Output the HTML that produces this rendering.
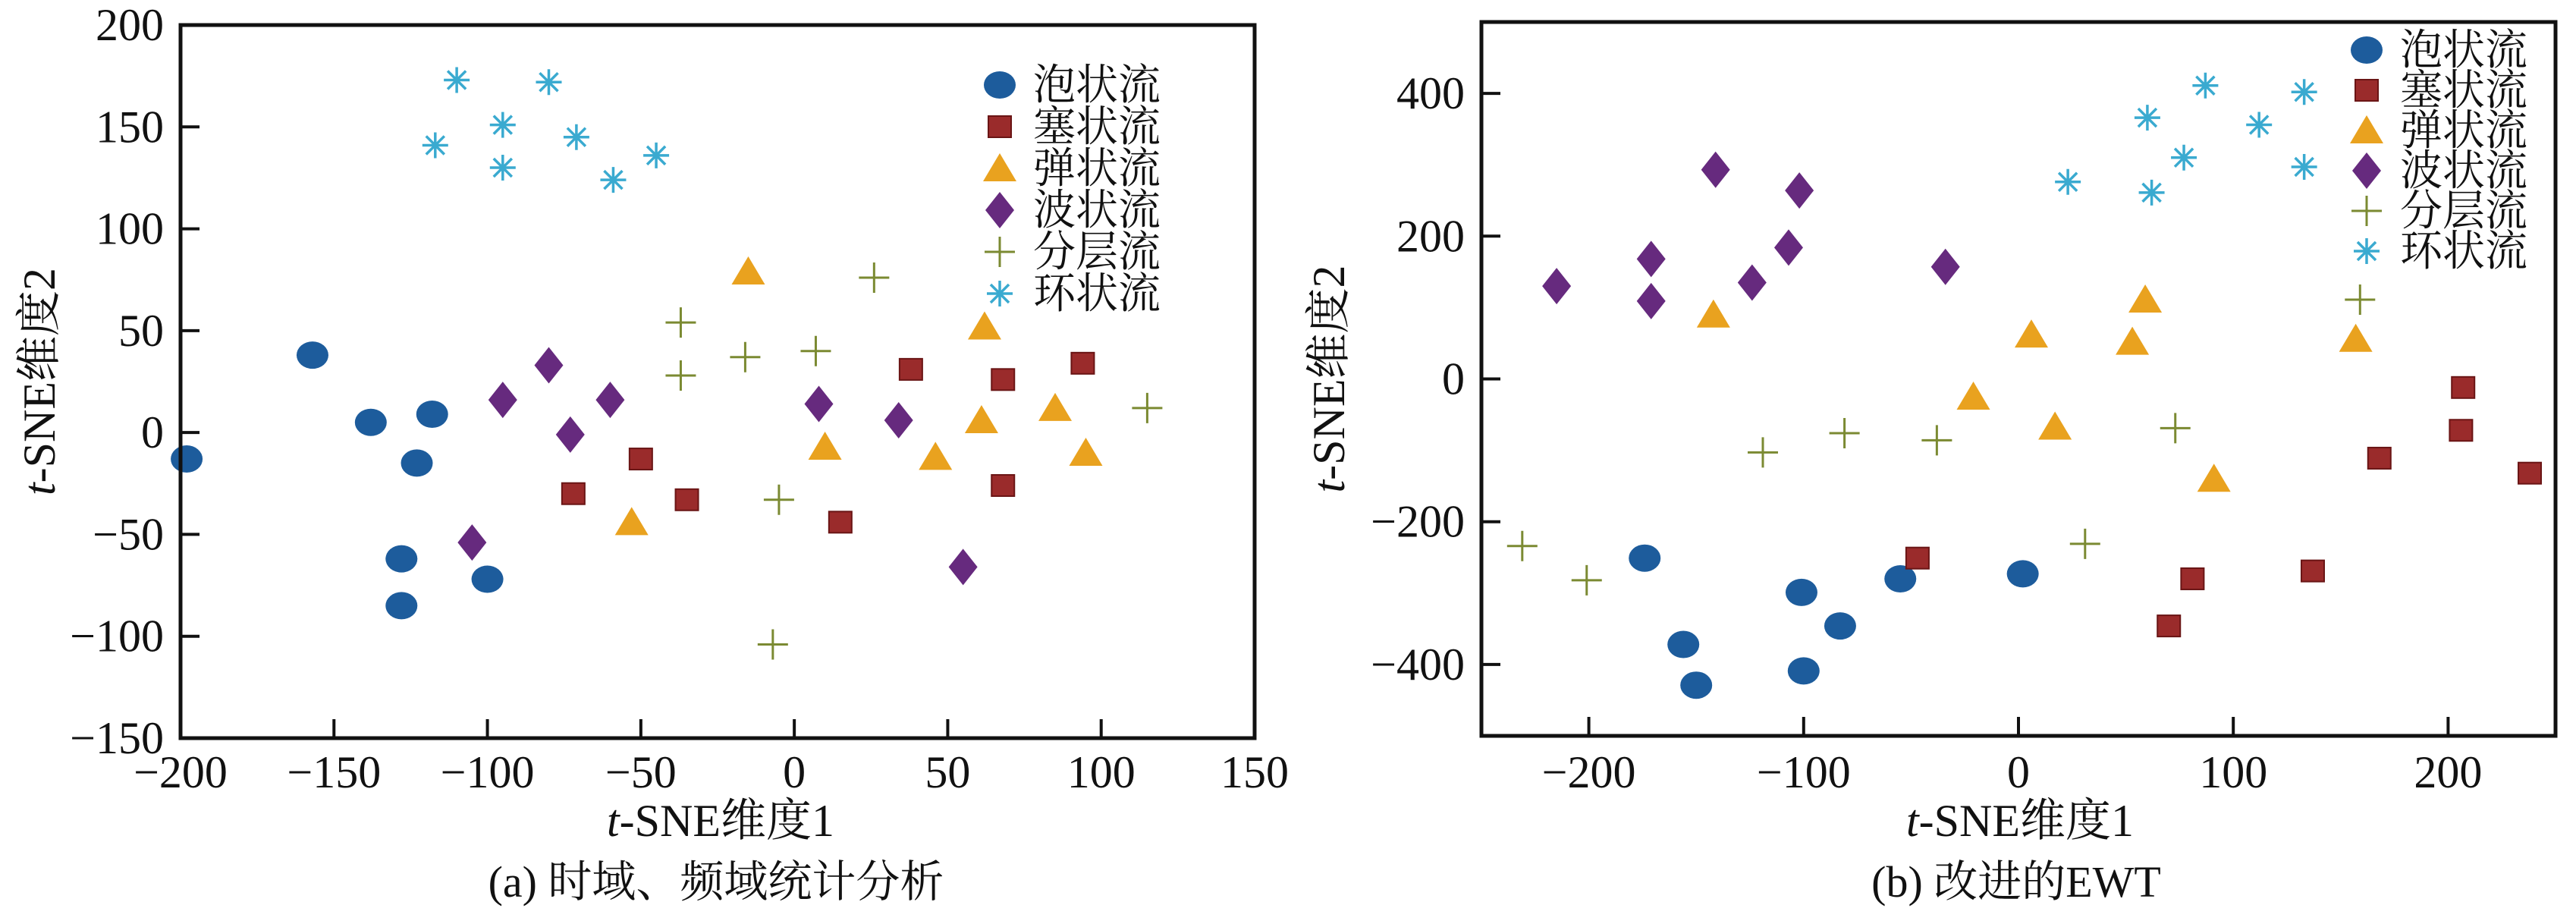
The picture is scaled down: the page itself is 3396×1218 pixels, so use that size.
<!DOCTYPE html>
<html><head><meta charset="utf-8"><style>
html,body{margin:0;padding:0;background:#fff}
svg{display:block}
text{font-family:"Liberation Serif","Noto Serif CJK SC","Noto Sans CJK SC",serif;fill:#111}
</style></head><body>
<svg id="chart" width="3396" height="1218" viewBox="0 0 3396 1218" xmlns="http://www.w3.org/2000/svg"></svg>
<script>
const classNames = ["泡状流","塞状流","弹状流","波状流","分层流","环状流"];
const classColors = ["#1d5c9c","#9a2b2b","#e9a21f","#662a7e","#7b8a32","#3aaad0"];
const classShapes = ["circle","square","triangle","diamond","plus","star"];

// Panel (a) data
const aBubbleX=[-198,-157,-138,-118,-123,-128,-100,-128];
const aBubbleY=[-13,38,5,9,-15,-62,-72,-85];
const aSlugX=[-50,-72,-35,15,38,68,68,94];
const aSlugY=[-13,-30,-33,-44,31,26,-26,34];
const aPlugX=[-15,-53,10,46,61,85,95,62];
const aPlugY=[79,-44,-7,-12,6,12,-10,52];
const aWaveX=[-80,-95,-60,-73,-105,8,34,55];
const aWaveY=[33,16,16,-1,-54,14,6,-66];
const aStratX=[-37,-37,-16,7,26,-5,-7,115];
const aStratY=[54,28,37,40,76,-33,-104,12];
const aAnnX=[-110,-80,-95,-117,-71,-95,-45,-59];
const aAnnY=[173,172,151,141,145,130,136,124];
const aXTicks=[-200,-150,-100,-50,0,50,100,150];
const aYTicks=[-150,-100,-50,0,50,100,150,200];

// Panel (b) data
const bBubbleX=[-174,-156,-150,-101,-100,-83,-55,2];
const bBubbleY=[-251,-372,-429,-299,-409,-346,-280,-273];
const bSlugX=[-47,70,81,137,207,206,168,238];
const bSlugY=[-251,-346,-280,-269,-12,-72,-111,-132];
const bPlugX=[-142,6,59,53,157,-21,17,91];
const bPlugY=[90,62,111,52,56,-25,-67,-140];
const bWaveX=[-215,-171,-171,-141,-124,-107,-102,-34];
const bWaveY=[130,168,109,293,135,184,264,157];
const bStratX=[-231,-201,-119,-81,-38,73,159,31];
const bStratY=[-234,-282,-103,-76,-86,-69,111,-231];
const bAnnX=[23,60,62,77,87,112,133,133];
const bAnnY=[276,366,261,310,411,356,402,297];
const bXTicks=[-200,-100,0,100,200];
const bYTicks=[-400,-200,0,200,400];

const NS="http://www.w3.org/2000/svg";
const svg=document.getElementById('chart');
function mk(tag,attrs,parent,txt){const e=document.createElementNS(NS,tag);for(const k in attrs)e.setAttribute(k,attrs[k]);if(txt!==undefined)e.textContent=txt;(parent||svg).appendChild(e);return e;}

function marker(g,shape,cx,cy,color){
  let e;
  if(shape==="circle"){e=mk('ellipse',{cx:cx,cy:cy,rx:21,ry:18,fill:color},g);}
  else if(shape==="square"){e=mk('rect',{x:cx-15,y:cy-14,width:30,height:28,fill:color,stroke:'#6a1515','stroke-width':2},g);}
  else if(shape==="triangle"){e=mk('polygon',{points:`${cx},${cy-20} ${cx+22},${cy+17} ${cx-22},${cy+17}`,fill:color},g);}
  else if(shape==="diamond"){e=mk('polygon',{points:`${cx},${cy-24} ${cx+19},${cy} ${cx},${cy+24} ${cx-19},${cy}`,fill:color},g);}
  else if(shape==="plus"){e=mk('path',{d:`M${cx-20},${cy}H${cx+20}M${cx},${cy-20}V${cy+20}`,stroke:color,'stroke-width':3,fill:'none'},g);}
  else {let d='';for(let i=0;i<4;i++){const a=i*Math.PI/4;const dx=17*Math.cos(a),dy=17*Math.sin(a);d+=`M${cx-dx},${cy-dy}L${cx+dx},${cy+dy}`;}
    e=mk('path',{d:d,stroke:color,'stroke-width':3.5,fill:'none'},g);}
  return e;
}

function panel(cfg){
  const g=mk('g',{});
  
  
  const {L,R,T,B,xmin,xmax,ymin,ymax}=cfg;
  const sx=v=>L+(v-xmin)/(xmax-xmin)*(R-L);
  const sy=v=>B-(v-ymin)/(ymax-ymin)*(B-T);
  cfg.xt.forEach(v=>{
    const t=mk('line',{x1:sx(v),x2:sx(v),y1:B,y2:B-25,stroke:'#111','stroke-width':4},g);
    
    
    const l=mk('text',{x:sx(v),y:1038,'font-size':60,'text-anchor':'middle'},g,v<0?'−'+(-v):String(v));
    
    
  });
  cfg.yt.forEach(v=>{
    const t=mk('line',{x1:L,x2:L+25,y1:sy(v),y2:sy(v),stroke:'#111','stroke-width':4},g);
    
    
    const l=mk('text',{x:L-22,y:sy(v)+20,'font-size':60,'text-anchor':'end'},g,v<0?'−'+(-v):String(v));
    
    
  });
  cfg.series.forEach((s,ci)=>{
    const sg=mk('g',{},g);
    
    
    s[0].forEach((xv,i)=>{
      const m=marker(sg,classShapes[ci],sx(xv),sy(s[1][i]),classColors[ci]);
      
      
    });
  });
  const f=mk('rect',{x:L,y:T,width:R-L,height:B-T,fill:'none',stroke:'#111','stroke-width':5},g);
  
  
  const lg=mk('g',{},g);
  
  
  classNames.forEach((n,i)=>{
    const y=cfg.legY+i*cfg.legDy;
    const m=marker(lg,classShapes[i],cfg.legX,y,classColors[i]);
    
    
    const t=mk('text',{x:cfg.legX+44,y:y+19,'font-size':56},lg,n);
    
    
  });
  const xt=mk('text',{x:cfg.xlabX,y:1102,'font-size':60,'text-anchor':'middle'},g);
  
  
  mk('tspan',{'font-style':'italic'},xt,'t');
  mk('tspan',{},xt,'-SNE维度1');
  const yt=mk('text',{x:0,y:0,'font-size':60,'text-anchor':'middle',transform:`translate(${cfg.ylabX},${(T+B)/2}) rotate(-90)`},g);
  
  
  mk('tspan',{'font-style':'italic'},yt,'t');
  mk('tspan',{},yt,'-SNE维度2');
  const cap=mk('text',{x:cfg.capX,y:1182,'font-size':58,'text-anchor':'middle'},g,cfg.caption);
  
  
}

panel({name:'panel-a-time-frequency',L:238,R:1654,T:33,B:973,xmin:-200,xmax:150,ymin:-150,ymax:200,
  xt:aXTicks,yt:aYTicks,
  series:[[aBubbleX,aBubbleY],[aSlugX,aSlugY],[aPlugX,aPlugY],[aWaveX,aWaveY],[aStratX,aStratY],[aAnnX,aAnnY]],
  legX:1318,legY:112,legDy:55,xlabX:950,ylabX:72,capX:944,caption:'(a) 时域、频域统计分析'});
panel({name:'panel-b-improved-ewt',L:1953,R:3369,T:29,B:970,xmin:-250,xmax:250,ymin:-500,ymax:500,
  xt:bXTicks,yt:bYTicks,
  series:[[bBubbleX,bBubbleY],[bSlugX,bSlugY],[bPlugX,bPlugY],[bWaveX,bWaveY],[bStratX,bStratY],[bAnnX,bAnnY]],
  legX:3120,legY:66,legDy:53,xlabX:2663,ylabX:1772,capX:2658,caption:'(b) 改进的EWT'});
</script>
</body></html>
